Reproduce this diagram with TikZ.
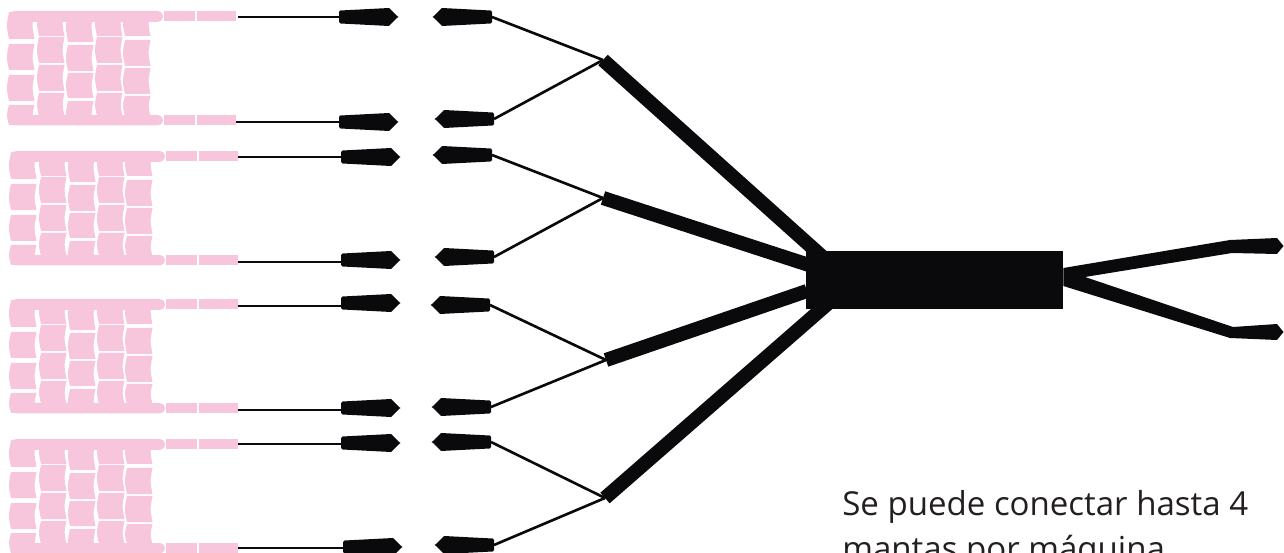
\documentclass[tikz,border=0pt]{standalone}
\usepackage{fontspec}
\setmainfont{Open Sans}
\usepackage{xcolor}
\definecolor{MANTA}{HTML}{F7C6DC}
\definecolor{BLACK}{HTML}{0A0A0C}
\definecolor{TEXTO}{HTML}{231F20}
\tikzset{
    wire/.style={BLACK, line width=1.5pt},
    cable/.style={BLACK, line width=8pt},
    box/.style={fill=BLACK, inner sep=0pt, minimum width=5.14cm, minimum height=1.16cm},
    label/.style={TEXTO, anchor=base west, inner sep=0pt, font=\fontsize{18.8pt}{25pt}\selectfont}
}
% one cell of a blanket
\newcommand*{\Celda}[3]{
    \fill[MANTA] (#1+2,#2) -- (#1+27.5,#2) .. controls (#1+25,{(#2+#3)/2}) .. (#1+27.5,#3)
        -- (#1+2,#3) .. controls (#1-0.7,{(#2+#3)/2}) .. cycle;
}
% blanket: x and y
\newcommand*{\Manta}[2]{
    \begin{scope}[shift={(#1,#2)}]
        \fill[MANTA, rounded corners=3] (9,11) rectangle (163,22);
        \fill[MANTA, rounded corners=3] (9,115) rectangle (163,125.5);
        \fill[MANTA] (164,11) rectangle (195,21.5);
        \fill[MANTA] (197,11) rectangle (236,21.5);
        \fill[MANTA] (164,115) rectangle (195,125.5);
        \fill[MANTA] (197,115) rectangle (236,125.5);
        \foreach \a/\b in {12/39,44/70,75/101,105/125} {\Celda{7}{\a}{\b}}
        \foreach \a/\b in {12/36,37/63,65/91,93/116} {\Celda{37}{\a}{\b}}
        \foreach \a/\b in {12/42,45/71,73/98,101/125} {\Celda{66}{\a}{\b}}
        \foreach \a/\b in {12/36,37/63,65/91,93/116} {\Celda{95}{\a}{\b}}
        \foreach \a/\b in {12/36,40/66,68/94,96/116} {\Celda{123}{\a}{\b}}
    \end{scope}
}
% plug: name, x and y of the tail, direction (1 or -1)
\newcommand*{\Clavija}[4]{
    \coordinate (#1) at (#2,#3);
    \fill[BLACK, shift={(#2,#3)}, xscale=#4] (0,-5) -- (1.5,-6.5) -- (50,-9) -- (58,-1) -- (59.5,0)
        -- (58,1) -- (50,9) -- (1.5,6.5) -- (0,5) -- cycle;
}
\begin{document}
\begin{tikzpicture}[x=0.02cm, y=-0.02cm]
    \useasboundingbox (0,0) rectangle (1284,553);
    % Blankets
    \Manta{0}{0}
    \Manta{2}{140}
    \Manta{2}{288}
    \Manta{2}{428}
    % Plugs
    \foreach \n/\x/\y in {la/339/17, lb/339/122, lc/341/157, ld/341/260, le/341/303, lf/341/408, lg/341/443, lh/343/547} {
        \Clavija{\n}{\x}{\y}{1}
    }
    \foreach \n/\x/\y in {ra/492/17, rb/494/119, rc/492/155, rd/494/257, re/490/305, rf/491/407, rg/491/442, rh/494/545} {
        \Clavija{\n}{\x}{\y}{-1}
    }
    % Wires
    \coordinate (ma) at (238,17);
    \coordinate (mb) at (236,122);
    \coordinate (mc) at (238,157);
    \coordinate (md) at (238,262);
    \coordinate (me) at (238,306);
    \coordinate (mf) at (238,410);
    \coordinate (mg) at (238,444);
    \coordinate (mh) at (238,548);
    \draw[wire] (ma) -- (ma -| la);
    \draw[wire] (mb) -- (mb -| lb);
    \draw[wire] (mc) -- (mc -| lc);
    \draw[wire] (md) -- (md -| ld);
    \draw[wire] (me) -- (me -| le);
    \draw[wire] (mf) -- (mf -| lf);
    \draw[wire] (mg) -- (mg -| lg);
    \draw[wire] (mh) -- (mh -| lh);
    % Junctions
    \coordinate (ja) at (603,60);
    \coordinate (jb) at (603,198);
    \coordinate (jc) at (606,360);
    \coordinate (jd) at (605,498);
    \draw[wire] (ra) -- (ja);
    \draw[wire] (rb) -- (ja);
    \draw[wire] (rc) -- (jb);
    \draw[wire] (rd) -- (jb);
    \draw[wire] (re) -- (jc);
    \draw[wire] (rf) -- (jc);
    \draw[wire] (rg) -- (jd);
    \draw[wire] (rh) -- (jd);
    % Thick cables
    \coordinate (ea) at (826,260);
    \coordinate (eb) at (812,266);
    \coordinate (ec) at (807,291);
    \coordinate (ed) at (832,300);
    \draw[cable] (ja) -- (ea);
    \draw[cable] (jb) -- (eb);
    \draw[cable] (jc) -- (ec);
    \draw[cable] (jd) -- (ed);
    % Main box
    \node[box] (caja) at (934.5,280) {};
    % Output cables
    \fill[BLACK] (caja.east |- 0,268) -- (1230,240) -- (1277,238) -- (1283.5,246) -- (1277,254) -- (1232,253)
        -- (1085,277) -- (1233,327) -- (1277,324) -- (1283.5,332) -- (1277,340) -- (1230,338)
        -- (caja.east |- 0,286) -- cycle;
    % Text
    \node[label] (nota) at (842,515) {Se puede conectar hasta 4};
    \node[label] (nota2) at (842,560) {mantas por máquina};
\end{tikzpicture}
\end{document}
